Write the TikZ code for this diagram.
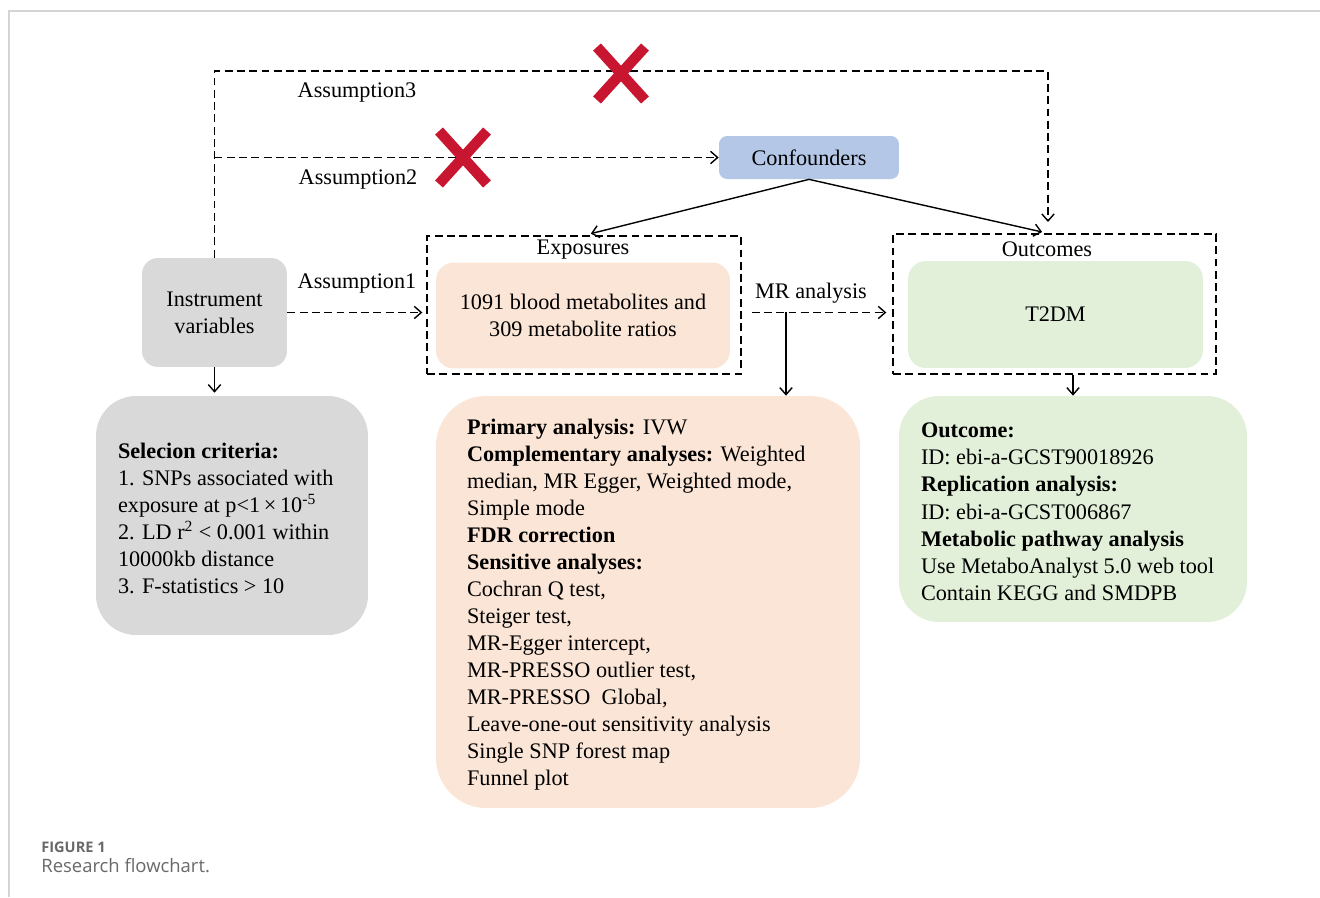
\documentclass[tikz,border=0pt]{standalone}
\usepackage{fontspec}
\setmainfont{Liberation Serif}
\newfontfamily\capfont{Open Sans}
\usetikzlibrary{positioning,arrows.meta}

\definecolor{grayfill}{RGB}{217,217,217}
\definecolor{orangefill}{RGB}{251,229,214}
\definecolor{greenfill}{RGB}{226,240,217}
\definecolor{bluefill}{RGB}{180,199,231}
\definecolor{crossred}{RGB}{200,22,48}
\definecolor{capgray}{RGB}{105,105,105}
\definecolor{pagegray}{RGB}{212,212,212}

\tikzset{
  txt/.style={font=\fontsize{12.65}{15.4}\selectfont, inner sep=0pt},
  lab/.style={txt, yshift=-0.055cm},
  fillbox/.style={rounded corners=#1, inner sep=0pt},
  dsh/.style={dash pattern=on 4.5pt off 2.5pt, line width=0.8pt},
  dashframe/.style={draw, dsh, inner sep=0pt},
  solid arrow/.style={->, line width=0.8pt},
  cross/.style={crossred, line width=6pt},
}

\begin{document}
\begin{tikzpicture}[x=0.02cm, y=-0.02cm, >={Straight Barb[length=4pt,width=7pt]}]
\fill[white] (0,0) rectangle (1320,897);
\useasboundingbox (0,0) rectangle (1320,897);
\draw[pagegray, line width=0.8pt] (1320,11) -- (9,11) -- (9,897);

\node[fillbox=0.32cm, fill=grayfill, minimum width=2.9cm, minimum height=2.18cm, txt, align=center] (inst) at (214.5,312.5) {Instrument\\variables};
\node[fillbox=0.16cm, fill=bluefill, minimum width=3.6cm, minimum height=0.86cm, txt] (conf) at (809,157.5) {Confounders};

\node[dashframe, minimum width=6.28cm, minimum height=2.76cm] (expoF) at (584,305) {};
\node[lab] (expoL) at (583,247) {Exposures};
\node[fillbox=0.36cm, fill=orangefill, minimum width=5.88cm, minimum height=2.12cm, txt, align=center] (expo) at (583,315.5) {1091 blood metabolites and\\309 metabolite ratios};

\node[dashframe, minimum width=6.46cm, minimum height=2.8cm] (outF) at (1054.5,304) {};
\node[lab] (outL) at (1047,246) {Outcomes};
\node[fillbox=0.36cm, fill=greenfill, minimum width=5.9cm, minimum height=2.14cm, txt] (outc) at (1055.5,314.5) {T2DM};

\node[fillbox=0.8cm, fill=grayfill, minimum width=5.44cm, minimum height=4.78cm] (sel) at (232,515.5) {};
\node[lab, align=left, anchor=west] (selT) at ([xshift=0.44cm]sel.west) {\textbf{Selecion criteria:}\\1. SNPs associated with\\exposure at p<1\,×\,10\textsuperscript{-5}\\2. LD r\textsuperscript{2} < 0.001 within\\10000kb distance\\3. F-statistics > 10};

\node[fillbox=1cm, fill=orangefill, minimum width=8.48cm, minimum height=8.24cm] (ana) at (648,602) {};
\node[lab, align=left, anchor=west] (anaT) at ([xshift=0.62cm]ana.west) {\textbf{Primary analysis:} IVW\\\textbf{Complementary analyses:} Weighted\\median, MR Egger, Weighted mode,\\Simple mode\\\textbf{FDR correction}\\\textbf{Sensitive analyses:}\\Cochran Q test,\\Steiger test,\\MR-Egger intercept,\\MR-PRESSO outlier test,\\MR-PRESSO\ \ Global,\\Leave-one-out sensitivity analysis\\Single SNP forest map\\Funnel plot};

\node[fillbox=0.8cm, fill=greenfill, minimum width=6.96cm, minimum height=4.52cm] (res) at (1073,509) {};
\node[lab, align=left, anchor=west] (resT) at ([xshift=0.44cm]res.west) {\textbf{Outcome:}\\ID: ebi-a-GCST90018926\\\textbf{Replication analysis:}\\ID: ebi-a-GCST006867\\\textbf{Metabolic pathway analysis}\\Use MetaboAnalyst 5.0 web tool\\Contain KEGG and SMDPB};

\node[lab] (a3lab) at (357,90) {Assumption3};
\node[lab] (a2lab) at (358,177) {Assumption2};
\node[lab] (a1lab) at (357,281) {Assumption1};
\node[lab] (mrlab) at (811,290) {MR analysis};

\coordinate (a3L) at (214.5,71);
\coordinate (a3R) at (1048,71);
\coordinate (a3E) at (1048,222);
\coordinate (mrmid) at (786,311.5);

\draw[dsh, ->] (inst.north) -- (a3L) -- (a3R) -- (a3E);
\draw[dsh, ->] (inst.north |- conf.west) -- (conf.west);
\draw[dsh, ->, shorten >=0.08cm] (inst.east) -- (inst.east -| expoF.west);
\draw[dsh, ->, shorten <=0.2cm, shorten >=0.12cm] (inst.east -| expoF.east) -- (inst.east -| outF.west);
\draw[solid arrow, shorten >=0.14cm] (conf.south) -- (expoF.north);
\draw[solid arrow, shorten >=0.12cm] (conf.south) -- (outF.north -| a3E);
\draw[solid arrow] (mrmid) -- (mrmid |- ana.north);
\draw[solid arrow] (res.north |- outF.south) -- (res.north);
\draw[solid arrow, shorten >=0.06cm] (inst.south) -- (inst.south |- sel.north);

\draw[cross] (597,47) -- (645,100);
\draw[cross] (645,47) -- (597,100);
\draw[cross] (439,131) -- (487,184);
\draw[cross] (487,131) -- (439,184);

\node[font=\capfont\bfseries\fontsize{8.3}{10}\selectfont, text=capgray, anchor=west, inner sep=0pt] (fig) at (41,847) {FIGURE 1};
\node[font=\capfont\fontsize{10.5}{12}\selectfont, text=capgray, anchor=west, inner sep=0pt] (cap) at (41,866) {Research flowchart.};
\end{tikzpicture}
\end{document}
